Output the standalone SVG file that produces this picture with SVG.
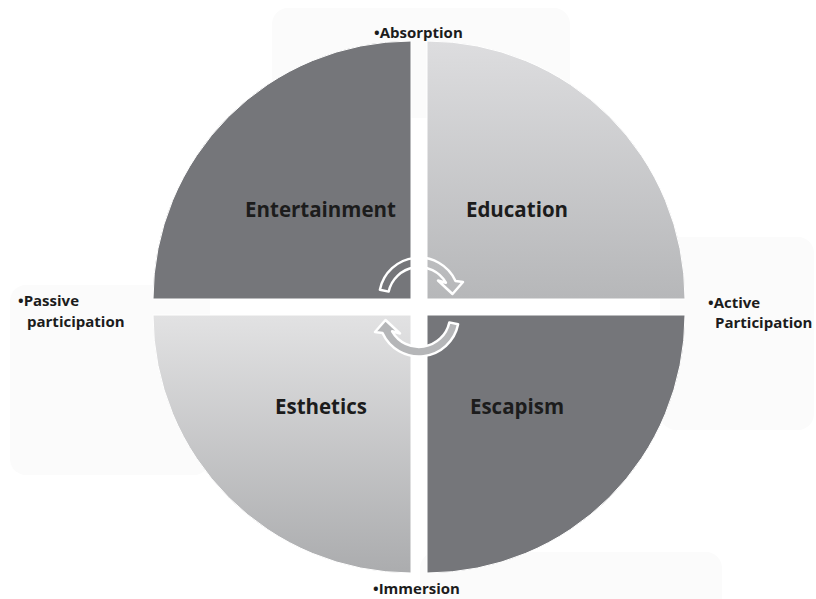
<svg xmlns="http://www.w3.org/2000/svg" width="816" height="599" viewBox="0 0 816 599">
  <style>
    .bg { fill: #fbfbfb; }
    .q { stroke: #ffffff; stroke-width: 1; }
    .dark { fill: #75767a; }
    .main { font-family: "Open Sans", "Liberation Sans", sans-serif; font-weight: bold; font-size: 20.5px; fill: #1c1c1c; text-anchor: middle; }
    .side { font-family: "Open Sans", "Liberation Sans", sans-serif; font-weight: bold; font-size: 15px; fill: #1c1c1c; }
    .arrow { stroke: #ffffff; stroke-width: 2.5; stroke-linejoin: round; }
  </style>
  <defs>
    <linearGradient id="gEdu" gradientUnits="userSpaceOnUse" x1="0" y1="41" x2="0" y2="299">
      <stop offset="0" stop-color="#dddddf"/>
      <stop offset="1" stop-color="#b6b7b9"/>
    </linearGradient>
    <linearGradient id="gEst" gradientUnits="userSpaceOnUse" x1="0" y1="315" x2="0" y2="573">
      <stop offset="0" stop-color="#e2e2e3"/>
      <stop offset="1" stop-color="#abacae"/>
    </linearGradient>
  </defs>
  <rect width="816" height="599" fill="#ffffff"/>
  <!-- faint label backgrounds -->
  <rect class="bg" x="272" y="8" width="298" height="110" rx="16"/>
  <rect class="bg" x="10" y="285" width="200" height="190" rx="16"/>
  <rect class="bg" x="660" y="237" width="154" height="193" rx="16"/>
  <rect class="bg" x="420" y="552" width="302" height="60" rx="16"/>

  <g id="entertainment">
    <path class="q dark" d="M411,299 L153,299 A258,258 0 0 1 411,41 Z"/>
    <text class="main" x="320.5" y="217">Entertainment</text>
  </g>
  <g id="education">
    <path class="q" fill="url(#gEdu)" d="M427,299 L427,41 A258,258 0 0 1 685,299 Z"/>
    <text class="main" x="517" y="217">Education</text>
  </g>
  <g id="esthetics">
    <path class="q" fill="url(#gEst)" d="M411,315 L411,573 A258,258 0 0 1 153,315 Z"/>
    <text class="main" x="321" y="414">Esthetics</text>
  </g>
  <g id="escapism">
    <path class="q dark" d="M427,315 L685,315 A258,258 0 0 1 427,573 Z"/>
    <text class="main" x="517" y="414">Escapism</text>
  </g>

  <g id="connectors">
    <path id="arrow-top" class="arrow" fill="none" d="M379.9,289.7 A40,40 0 0 1 455.5,281 L463,282 L452.5,294 L438,280.5 L445.9,282.7 A31,31 0 0 0 388.7,291.6 Z"/>
    <path id="arrow-bottom" class="arrow" fill="#b5b6b8" transform="rotate(180 419 307)" d="M379.9,289.7 A40,40 0 0 1 455.5,281 L463,282 L452.5,294 L438,280.5 L445.9,282.7 A31,31 0 0 0 388.7,291.6 Z"/>
  </g>

  <g id="label-absorption">
    <text class="side" x="374" y="38">•Absorption</text>
  </g>
  <g id="label-passive">
    <text class="side" x="18" y="306">•Passive</text>
    <text class="side" x="27" y="327">participation</text>
  </g>
  <g id="label-active">
    <text class="side" x="708" y="308">•Active</text>
    <text class="side" x="715" y="328">Participation</text>
  </g>
  <g id="label-immersion">
    <text class="side" x="373" y="594">•Immersion</text>
  </g>
</svg>
